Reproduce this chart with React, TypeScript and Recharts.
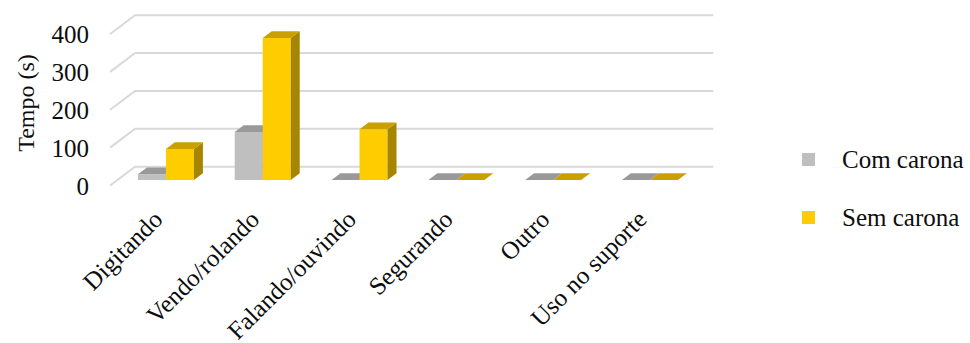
import React from 'react';
import { BarChart, Bar, XAxis, YAxis, CartesianGrid, Legend } from 'recharts';

const categories = ['Digitando', 'Vendo/rolando', 'Falando/ouvindo', 'Segurando', 'Outro', 'Uso no suporte'];
const comCarona = [15, 127, 0, 0, 0, 0];
const semCarona = [82, 375, 134, 0, 0, 0];
const yTicks = [0, 100, 200, 300, 400];
const seriesNames = ['Com carona', 'Sem carona'];

const data = categories.map((c, i) => ({ name: c, com: comCarona[i], sem: semCarona[i] }));

const FONT = "'Liberation Serif', Tinos, 'DejaVu Serif', 'Noto Serif', serif";
const DX = 9;
const DY = 6.7;

const colors = {
  com: { front: '#bfbfbf', top: '#999999', side: '#8c8c8c' },
  sem: { front: '#ffcc00', top: '#c9a000', side: '#a68600' },
};

const make3D = (c: { front: string; top: string; side: string }) => (props: any) => {
  const { x, y, width: w } = props;
  const h = Math.max(0, props.height || 0);
  if (x == null || y == null) return <g />;
  const top = `${x},${y} ${x + w},${y} ${x + w + DX},${y - DY} ${x + DX},${y - DY}`;
  const side = `${x + w},${y} ${x + w + DX},${y - DY} ${x + w + DX},${y + h - DY} ${x + w},${y + h}`;
  return (
    <g>
      {h > 0 && <rect x={x} y={y} width={w} height={h} fill={c.front} />}
      {h > 0 && <polygon points={side} fill={c.side} />}
      <polygon points={top} fill={c.top} />
    </g>
  );
};

const gridLine = (p: any) => {
  const { x1, y1, x2 } = p;
  const d = `M${x1 - 7.5},${y1 + 5.5}L${x1 + 17.5},${y1 - 13.3}L${x2 + 15},${y1 - 13.3}`;
  return <path key={p.key ?? `g${y1}`} d={d} stroke="#d9d9d9" strokeWidth={2} fill="none" />;
};

const YTick = (props: any) => {
  const { y, payload } = props;
  return (
    <text x={89} y={y + 6} dy="0.35em" textAnchor="end" style={{ fontFamily: FONT }} fontSize={25} fill="#0d0d0d">
      {payload.value}
    </text>
  );
};

const XTick = (props: any) => {
  const { x, y, payload } = props;
  const ax = x - 2;
  const ay = y + 33;
  return (
    <text
      x={ax}
      y={ay}
      textAnchor="end"
      transform={`rotate(-45 ${ax} ${ay})`}
      style={{ fontFamily: FONT }}
      fontSize={25}
      fill="#0d0d0d"
    >
      {payload.value}
    </text>
  );
};

const LegendContent = () => (
  <div style={{ fontFamily: FONT, fontSize: 25, color: '#0d0d0d' }}>
    {seriesNames.map((n, i) => (
      <div key={n} style={{ display: 'flex', alignItems: 'center', height: 39, marginBottom: 19 }}>
        <span
          style={{
            display: 'inline-block',
            width: 13,
            height: 13,
            background: i === 0 ? colors.com.front : colors.sem.front,
          }}
        />
        <span style={{ marginLeft: 27, whiteSpace: 'nowrap' }}>{n}</span>
      </div>
    ))}
  </div>
);

export default function App() {
  return (
    <div style={{ width: 970, height: 343, position: 'relative', fontFamily: FONT }}>
      <style>{'body{margin:0}'}</style>
      <BarChart
        width={970}
        height={343}
        data={data}
        margin={{ top: 28.5, right: 271.6, bottom: 103, left: 57.6 }}
        barCategoryGap="21%"
        barGap={0}
      >
        <CartesianGrid horizontal={gridLine} vertical={false} />
        <XAxis
          dataKey="name"
          axisLine={false}
          tickLine={false}
          interval={0}
          height={60}
          tick={XTick}
        />
        <YAxis
          width={60}
          domain={[0, 400]}
          ticks={yTicks}
          axisLine={false}
          tickLine={false}
          tick={YTick}
          label={{
            value: 'Tempo (s)',
            angle: -90,
            position: 'insideLeft',
            content: () => (
              <text
                x={26}
                y={103}
                textAnchor="middle"
                dominantBaseline="central"
                transform="rotate(-90 26 103)"
                style={{ fontFamily: FONT }}
                fontSize={24}
                fill="#0d0d0d"
              >
                Tempo (s)
              </text>
            ),
          }}
        />
        <Legend
          layout="vertical"
          align="center"
          verticalAlign="middle"
          content={LegendContent}
          wrapperStyle={{ position: 'absolute', left: 802, top: 140, width: 168 }}
        />
        <Bar dataKey="com" name={seriesNames[0]} fill={colors.com.front} shape={make3D(colors.com)} isAnimationActive={false} />
        <Bar dataKey="sem" name={seriesNames[1]} fill={colors.sem.front} shape={make3D(colors.sem)} isAnimationActive={false} />
      </BarChart>
    </div>
  );
}
